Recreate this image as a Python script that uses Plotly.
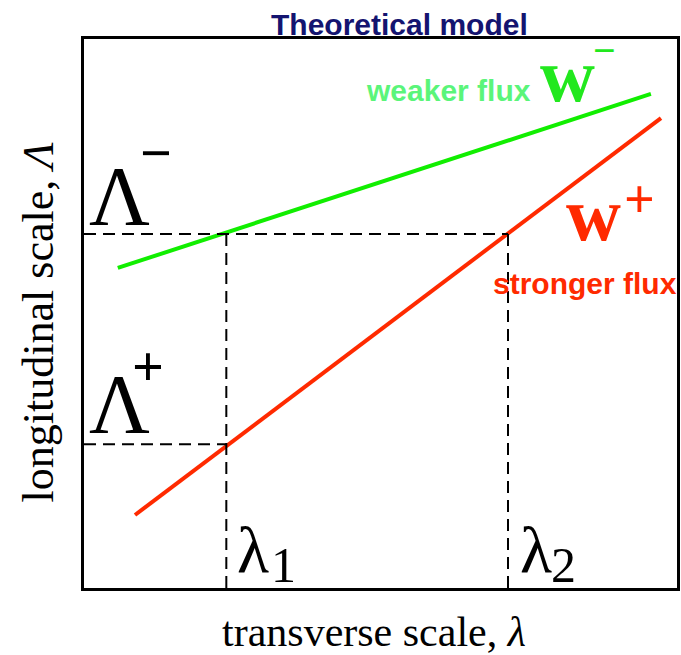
import plotly.graph_objects as go

# ---- data (abstract units, axes 0..10) ----
weak_x = [0.57, 9.56]          # weaker flux w-
weak_y = [5.83, 9.00]
strong_x = [0.86, 9.73]        # stronger flux w+
strong_y = [1.33, 8.56]
lam1, lam2 = 2.40, 7.15        # transverse scales
Lam_minus, Lam_plus = 6.45, 2.62  # longitudinal scales

W, H = 681, 655
L, R, T, B = 84, 1, 39, 67
PW, PH = W - L - R, H - T - B

def px(x):
    return (x - L) / PW

def py(y):
    return (H - B - y) / PH

SERIF = "Liberation Serif, Times New Roman, serif"
SANS = "Liberation Sans, Arial, sans-serif"
GREEN_LINE = "#11ee00"
GREEN_TXT = "#5af57a"
GREEN_W = "#22e81e"
RED = "#ff2a00"

fig = go.Figure()
fig.add_trace(go.Scatter(x=weak_x, y=weak_y, mode="lines",
                         line=dict(color=GREEN_LINE, width=4), showlegend=False))
fig.add_trace(go.Scatter(x=strong_x, y=strong_y, mode="lines",
                         line=dict(color=RED, width=4), showlegend=False))

dash_x = [0, lam2, None, lam1, lam1, None, 0, lam1, None, lam2, lam2]
dash_y = [Lam_minus, Lam_minus, None, Lam_minus, 0, None, Lam_plus, Lam_plus, None, Lam_minus, 0]
fig.add_trace(go.Scatter(x=dash_x, y=dash_y, mode="lines", connectgaps=False,
                         line=dict(color="black", width=2, dash="12px,7px"), showlegend=False))

ann = []
def text(t, x, y_base, size, family, color, k=0.3375, xanchor="left", ycenter=None, angle=0):
    yc = ycenter if ycenter is not None else y_base - k * size
    xx = x - 2 if xanchor == "left" else x
    ann.append(dict(text=t, xref="paper", yref="paper", x=px(xx), y=py(yc),
                    xanchor=xanchor, yanchor="middle", showarrow=False, textangle=angle,
                    font=dict(family=family, size=size, color=color)))

# title
text("<b>Theoretical model</b>", 401, 35, 30, SANS, "#141470", k=0.3465, xanchor="center")
# labels for the lines
text("<b>weaker flux</b>", 367, 101, 30, SANS, GREEN_TXT, k=0.3465)
text("<b>w</b>", 542, 101, 76, SERIF, GREEN_W)
text("<b>−</b>", 607, None, 40, SERIF, GREEN_W, xanchor="center", ycenter=54.5 - 0.09 * 40)
text("<b>w</b>", 568, 240, 76, SERIF, RED)
text("<b>+</b>", 642, None, 54, SERIF, RED, xanchor="center", ycenter=204 - 0.09 * 54)
text("<b>stronger flux</b>", 495, 294, 30, SANS, RED, k=0.3465)
# Lambda labels
text("Λ", 89, 225, 84, SERIF, "black")
text("<b>−</b>", 156, None, 56, SERIF, "black", xanchor="center", ycenter=158.5 - 0.09 * 56)
text("Λ", 89, 433, 84, SERIF, "black")
text("<b>+</b>", 148, None, 56, SERIF, "black", xanchor="center", ycenter=372 - 0.09 * 56)
# lambda labels
text("λ", 238, 572, 66, SERIF, "black")
text("1", 272, 582, 50, SERIF, "black")
text("λ", 522, 572, 66, SERIF, "black")
text("2", 553, 582, 50, SERIF, "black")
# axis titles
text("transverse scale, <i>λ</i>", 375, 646, 42, SERIF, "black", xanchor="center")
ann.append(dict(text="longitudinal scale, <i>Λ</i>", xref="paper", yref="paper",
                x=px(53 - 0.3375 * 44), y=py(322), xanchor="center", yanchor="middle",
                showarrow=False, textangle=-90,
                font=dict(family=SERIF, size=44, color="black")))

axis = dict(range=[0, 10], showgrid=False, zeroline=False, showticklabels=False,
            ticks="", showline=True, linecolor="black", linewidth=3, mirror=True, fixedrange=True)
fig.update_layout(width=W, height=H, margin=dict(l=L, r=R, t=T, b=B),
                  paper_bgcolor="white", plot_bgcolor="white",
                  xaxis=axis, yaxis=axis, annotations=ann)
fig.write_html("out.html")
